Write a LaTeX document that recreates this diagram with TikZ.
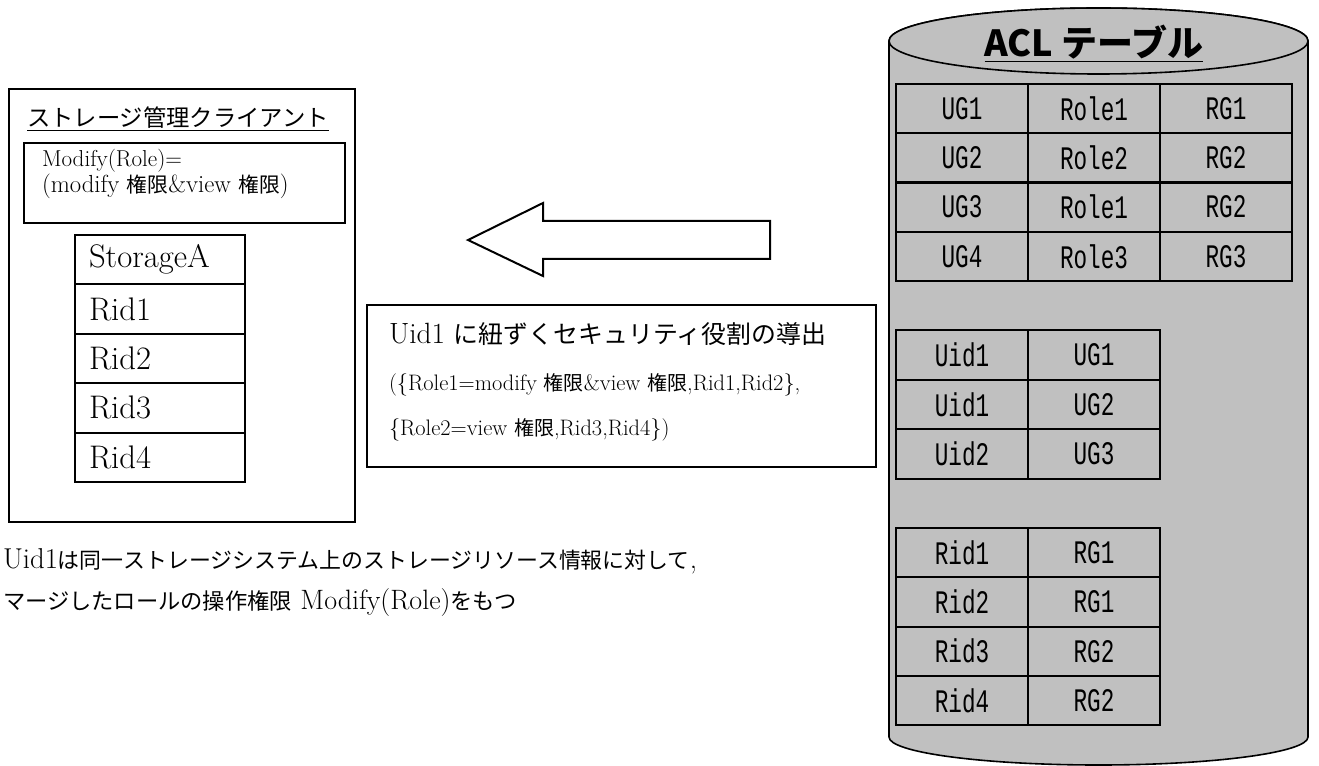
\documentclass[tikz,border=0pt]{standalone}
\usepackage{fontspec}
\usepackage{graphicx}
\newfontfamily\cjk{Noto Sans CJK JP}
\newfontfamily\mono{Liberation Mono}
\definecolor{cylgray}{HTML}{C0C0C0}
\newcommand{\fitw}[2]{\resizebox{#1}{!}{#2}}
\newcommand{\tallt}[1]{\scalebox{1}[1.45]{#1}}
\tikzset{
  boxline/.style={draw, line width=1.5pt},
  cell/.style={draw, line width=1.5pt, minimum width=99pt, minimum height=#1, inner sep=0pt, outer sep=0pt, anchor=north west, font=\mono\fontsize{17}{20}\selectfont},
  scell/.style={draw, line width=1.5pt, text width=106.5pt, inner xsep=10.5pt, inner ysep=0pt, minimum height=37pt, outer sep=0pt, anchor=north west, align=left, font=\fontsize{24.5}{26}\selectfont},
  plain/.style={inner sep=0pt, outer sep=0pt}
}
\begin{document}
\begin{tikzpicture}[x=0.75pt,y=0.75pt]
\useasboundingbox (0,0) rectangle (1319,-766);

% ---------- cylinder (ACL table) ----------
\path[draw, line width=1.2pt, fill=cylgray]
  (889,-41) -- (889,-737) arc[start angle=180, end angle=360, x radius=209.5, y radius=28]
  -- (1308,-41) arc[start angle=0, end angle=180, x radius=209.5, y radius=33] -- cycle;
\draw[line width=1.2pt, fill=cylgray] (1098.5,-41) ellipse [x radius=209.5, y radius=33];
\node[plain, anchor=base] (acltitle) at (1094,-57)
  {\cjk\bfseries\fontsize{27}{30}\selectfont\underline{ACL テーブル}};

% table 1
\foreach \a/\b/\c [count=\i from 0] in {UG1/Role1/RG1, UG2/Role2/RG2, UG3/Role1/RG2, UG4/Role3/RG3}{
  \node[cell=37pt] (ta-\i-1) at (896,{-84-49.25*\i}) {\tallt{\a}};
  \node[cell=37pt] (ta-\i-2) at (1028,{-84-49.25*\i}) {\tallt{\b}};
  \node[cell=37pt] (ta-\i-3) at (1160,{-84-49.25*\i}) {\tallt{\c}};
}
% table 2
\foreach \a/\b [count=\i from 0] in {Uid1/UG1, Uid1/UG2, Uid2/UG3}{
  \node[cell=37.2pt] (tb-\i-1) at (896,{-330-49.6*\i}) {\tallt{\a}};
  \node[cell=37.2pt] (tb-\i-2) at (1028,{-330-49.6*\i}) {\tallt{\b}};
}
% table 3
\foreach \a/\b [count=\i from 0] in {Rid1/RG1, Rid2/RG1, Rid3/RG2, Rid4/RG2}{
  \node[cell=37pt] (tc-\i-1) at (896,{-528-49.25*\i}) {\tallt{\a}};
  \node[cell=37pt] (tc-\i-2) at (1028,{-528-49.25*\i}) {\tallt{\b}};
}

% ---------- client box ----------
\node[boxline, minimum width=259.5pt, minimum height=324.75pt, anchor=north west, inner sep=0pt, outer sep=0pt] (client) at (9,-89) {};
\node[plain, anchor=base west] (ctitle) at (27,-127)
  {\cjk\fontsize{17.5}{20}\selectfont\underline{ストレージ管理クライアント}};
\node[boxline, minimum width=240.75pt, minimum height=60pt, anchor=north west, inner sep=0pt, outer sep=0pt] (modbox) at (24,-143) {};
\node[plain, anchor=base west, font=\fontsize{15.5}{18}\selectfont] (modl1) at (42,-167) {\fitw{105pt}{Modify(Role)=}};
\node[plain, anchor=base west, font=\fontsize{15.5}{18}\selectfont] (modl2) at (42,-193) {\fitw{185pt}{(modify {\cjk\fontsize{13}{18}\selectfont 権限}\&view {\cjk\fontsize{13}{18}\selectfont 権限})}};
\foreach \t [count=\i from 0] in {StorageA, Rid1, Rid2, Rid3, Rid4}{
  \node[scell] (s-\i) at (75,{-235-49.4*\i}) {\t};
}

% ---------- block arrow ----------
\draw[line width=1.5pt, fill=white, line join=miter]
  (468,-240) -- (543,-203) -- (543,-221) -- (770,-221) -- (770,-259) -- (543,-259) -- (543,-276) -- cycle;

% ---------- derivation box ----------
\node[boxline, minimum width=381.75pt, minimum height=121.5pt, anchor=north west, inner sep=0pt, outer sep=0pt] (derive) at (367,-305) {};
\node[plain, anchor=base west, font=\fontsize{20}{22}\selectfont] (dl1) at (389,-343)
  {\fitw{327.75pt}{Uid1 {\cjk\fontsize{17}{20}\selectfont に紐ずくセキュリティ役割の導出}}};
\node[plain, anchor=base west, font=\fontsize{16.8}{18}\selectfont] (dl2) at (389,-390)
  {(\{Role1=modify {\cjk\fontsize{15}{18}\selectfont 権限}\&view {\cjk\fontsize{15}{18}\selectfont 権限},Rid1,Rid2\},};
\node[plain, anchor=base west, font=\fontsize{16.8}{18}\selectfont] (dl3) at (389,-435)
  {\{Role2=view {\cjk\fontsize{15}{18}\selectfont 権限},Rid3,Rid4\})};

% ---------- bottom text ----------
\node[plain, anchor=base west, font=\fontsize{21}{22}\selectfont] (note1) at (3,-568)
  {\fitw{520.5pt}{Uid1{\cjk\fontsize{16}{20}\selectfont は同一ストレージシステム上のストレージリソース情報に対して},}};
\node[plain, anchor=base west, font=\fontsize{21}{22}\selectfont] (note2) at (3,-609)
  {{\cjk\fontsize{16.7}{20}\selectfont マージしたロールの操作権限} Modify(Role){\cjk\fontsize{16.7}{20}\selectfont をもつ}};
\end{tikzpicture}
\end{document}
